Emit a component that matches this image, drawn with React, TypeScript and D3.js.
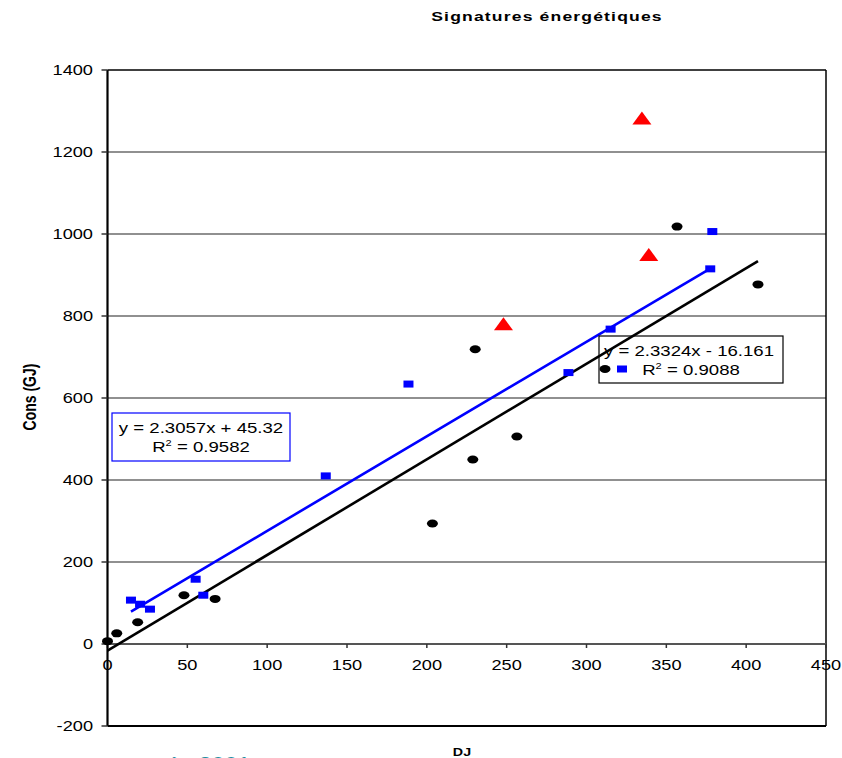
import React from "react";
import * as d3 from "d3";

const blackDJ = [0, 5.8, 18.9, 47.9, 67.4, 203.5, 228.8, 230.3, 256.4, 356.7, 407.4];
const blackCons = [7, 26, 53, 119, 110, 294, 450, 719, 506, 1018, 877];
const blueDJ = [14.7, 20.4, 26.6, 55.2, 60, 136.7, 188.5, 288.7, 315.1, 377.5, 378.8];
const blueCons = [107, 97, 85, 158, 119, 410, 634, 662, 768, 915, 1006];
const redDJ = [248, 334.7, 339];
const redCons = [780, 1282, 949];

const xTicks = [0, 50, 100, 150, 200, 250, 300, 350, 400, 450];
const yTicks = [-200, 0, 200, 400, 600, 800, 1000, 1200, 1400];

const blackFit = { slope: 2.3324, intercept: -16.161, label: "y = 2.3324x - 16.161", r2: "0.9088" };
const blueFit = { slope: 2.3057, intercept: 45.32, label: "y = 2.3057x + 45.32", r2: "0.9582" };

const FONT = "'Liberation Sans', Arial, sans-serif";
const SX = 1.3;

function T(props: {
  x: number; y: number; anchor?: string; size?: number; bold?: boolean; fill?: string;
  rotate?: boolean; spacing?: number; children: React.ReactNode;
}) {
  const { x, y, anchor = "start", size = 14, bold = false, fill = "#000", rotate = false, spacing = 0 } = props;
  return (
    <text
      transform={`translate(${x},${y}) scale(${SX},1)${rotate ? " rotate(-90)" : ""}`}
      textAnchor={anchor}
      fontSize={size}
      fontWeight={bold ? "bold" : "normal"}
      fontFamily={FONT}
      fill={fill}
      letterSpacing={spacing}
    >
      {props.children}
    </text>
  );
}

export default function App() {
  const W = 842, H = 758;
  const x = d3.scaleLinear().domain([0, 450]).range([107.5, 826]);
  const y = d3.scaleLinear().domain([-200, 1400]).range([726, 70]);

  const blackPts = blackDJ.map((d, i) => [d, blackCons[i]] as [number, number]);
  const bluePts = blueDJ.map((d, i) => [d, blueCons[i]] as [number, number]);
  const redPts = redDJ.map((d, i) => [d, redCons[i]] as [number, number]);

  const line = d3.line<number>().x((d) => x(d[0])).y((d) => y(d[1])) as any;
  const bx0 = d3.min(blackDJ)!, bx1 = d3.max(blackDJ)!;
  const ux0 = d3.min(blueDJ)!, ux1 = d3.max(blueDJ)!;
  const blackLine = line([[bx0, blackFit.slope * bx0 + blackFit.intercept], [bx1, blackFit.slope * bx1 + blackFit.intercept]]);
  const blueLine = line([[ux0, blueFit.slope * ux0 + blueFit.intercept], [ux1, blueFit.slope * ux1 + blueFit.intercept]]);

  const triPath = (cx: number, cy: number) =>
    `M${cx},${cy - 7} L${cx + 9.5},${cy + 6} L${cx - 9.5},${cy + 6} Z`;

  const left = x(0), right = x(450), top = y(1400), bottom = y(-200);

  return (
    <svg width={W} height={H} style={{ position: "absolute", left: 0, top: 0, background: "#fff" }}>
      <rect x={0} y={0} width={W} height={H} fill="#fff" />
      {/* title */}
      <T x={547} y={21} anchor="middle" size={13.5} bold spacing={0.9}>Signatures énergétiques</T>

      {/* gridlines */}
      {yTicks.filter((t) => t !== -200 && t !== 0 && t !== 1400).map((t) => (
        <line key={t} x1={left} x2={right} y1={y(t)} y2={y(t)} stroke="#222" strokeWidth={1.2} />
      ))}
      {/* border */}
      <line x1={left} x2={right} y1={top} y2={top} stroke="#000" strokeWidth={1.5} />
      <line x1={right} x2={right} y1={top} y2={bottom} stroke="#000" strokeWidth={1.5} />
      <line x1={left} x2={right} y1={bottom} y2={bottom} stroke="#000" strokeWidth={2} />
      {/* x axis at 0 */}
      <line x1={left} x2={right} y1={y(0)} y2={y(0)} stroke="#555" strokeWidth={2.2} />
      {xTicks.map((t) => (
        <g key={t}>
          <line x1={x(t)} x2={x(t)} y1={y(0)} y2={y(0) + 4} stroke="#333" strokeWidth={1.5} />
          <T x={x(t)} y={y(0) + 26} anchor="middle" size={14}>{t}</T>
        </g>
      ))}
      {/* y axis */}
      <line x1={left} x2={left} y1={top} y2={bottom} stroke="#000" strokeWidth={2.2} />
      {yTicks.map((t) => (
        <g key={t}>
          <line x1={left - 6} x2={left} y1={y(t)} y2={y(t)} stroke="#333" strokeWidth={1.5} />
          <T x={93} y={y(t) + 5} anchor="end" size={14}>{t}</T>
        </g>
      ))}

      {/* axis titles */}
      <T x={462} y={756} anchor="middle" size={11} bold>DJ</T>
      <T x={36} y={397} anchor="middle" size={14} bold rotate>Cons (GJ)</T>

      {/* trendlines */}
      <path d={blueLine} stroke="#0000ff" strokeWidth={2.6} fill="none" />
      <path d={blackLine} stroke="#000" strokeWidth={2.6} fill="none" />

      {/* markers */}
      {blackPts.map((p, i) => (
        <ellipse key={"k" + i} cx={x(p[0])} cy={y(p[1])} rx={5.5} ry={4} fill="#000" />
      ))}
      {bluePts.map((p, i) => (
        <rect key={"b" + i} x={x(p[0]) - 5} y={y(p[1]) - 3.5} width={10} height={7} fill="#0000ff" />
      ))}
      {redPts.map((p, i) => (
        <path key={"r" + i} d={triPath(x(p[0]), y(p[1]))} fill="#ff0000" />
      ))}

      {/* blue label */}
      <rect x={112} y={413} width={178} height={48} fill="none" stroke="#0000ff" strokeWidth={1.2} />
      <T x={201} y={433} anchor="middle" size={14.3}>{blueFit.label}</T>
      <T x={201} y={452} anchor="middle" size={14.3}>
        R<tspan fontSize={8.5} dy={-6}>2</tspan><tspan dy={6}> = {blueFit.r2}</tspan>
      </T>

      {/* black label */}
      <rect x={599} y={336} width={184} height={47} fill="none" stroke="#000" strokeWidth={1.2} />
      <T x={689} y={356} anchor="middle" size={14.3}>{blackFit.label}</T>
      <ellipse cx={605} cy={369} rx={5.5} ry={4} fill="#000" />
      <rect x={617} y={365.5} width={10} height={7} fill="#0000ff" />
      <T x={691} y={375} anchor="middle" size={14.3}>
        R<tspan fontSize={8.5} dy={-6}>2</tspan><tspan dy={6}> = {blackFit.r2}</tspan>
      </T>

      {/* cut-off footnote */}
      <T x={127} y={770} size={18} fill="#1f8fa3">année 2001</T>
    </svg>
  );
}
